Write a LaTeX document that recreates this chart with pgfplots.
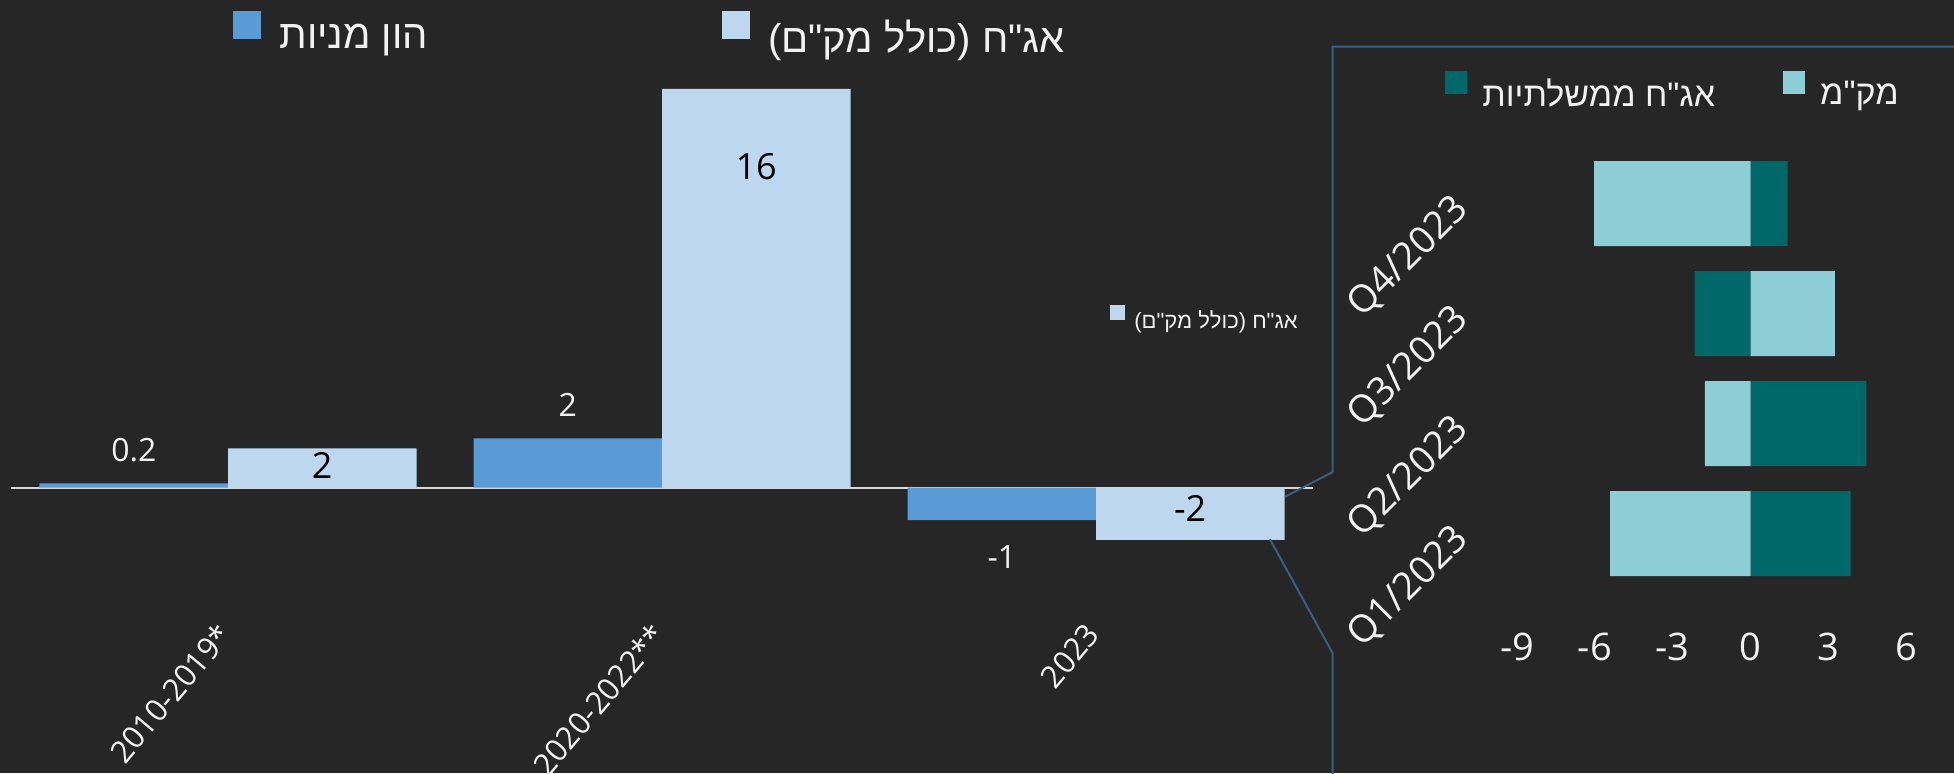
\documentclass[border=0pt]{standalone}
\usepackage{pgfplots}
\pgfplotsset{compat=1.18}
\usepackage{pgfplotstable}
\usepackage{fontspec}
\setmainfont{Open Sans}
\newfontfamily\heb[Script=Hebrew]{Liberation Sans}
\TeXXeTstate=1
\definecolor{bg}{HTML}{262626}
\definecolor{barblue}{HTML}{5B9BD5}
\definecolor{barlight}{HTML}{BDD7EE}
\definecolor{tealL}{HTML}{8DCED6}
\definecolor{tealD}{HTML}{006868}
\definecolor{conn}{HTML}{3B5E80}
\definecolor{zeroc}{HTML}{D9D9D9}
\definecolor{txt}{HTML}{F2F2F2}
\pgfplotstableread{
x y
0 0.17
1 1.98
2 -1.30
}\equity
\pgfplotstableread{
x y
0 1.58
1 16.0
2 -2.09
}\bonds
\pgfplotstableread{
x y lab
-0.217 1.51 0.2
0.783 3.31 2
1.783 -2.78 -1
}\equitylab
\pgfplotstableread{
x y lab
0.217 0.91 2
1.217 12.9 16
2.217 -0.85 -2
}\bondslab
\pgfplotstableread{
q v
1 3.85
2 4.46
3 -2.16
4 1.43
}\govt
\pgfplotstableread{
q v
1 -5.41
2 -1.76
3 3.25
4 -6.03
}\makam
\begin{document}
\begin{tikzpicture}
\useasboundingbox (0,0) rectangle (977pt,-386.5pt);
\fill[bg] (0,0) rectangle (977pt,-386.5pt);
% main chart
\begin{axis}[
  at={(5.5pt,-306.15pt)}, anchor=south west,
  scale only axis, width=651pt, height=286.6pt,
  xmin=-0.5, xmax=2.5, ymin=-5, ymax=18,
  clip=false,
  axis line style={draw=none}, major tick length=0pt,
  xtick={0,1,2}, xticklabels={2010-2019*,2020-2022**,2023},
  ytick=\empty,
  extra y ticks={0}, extra y tick labels={},
  extra y tick style={grid=major, major grid style={draw=zeroc, line width=1pt}},
  xticklabel style={text=txt, font=\fontsize{15.5}{19}\selectfont, inner sep=0pt, xshift=-1.5pt, yshift=-8pt, rotate=50, anchor=east},
  legend columns=2,
  legend cell align=left,
  legend image code/.code={\fill[#1] (0pt,-0.5pt) rectangle (14pt,13.5pt);},
  legend style={at={(0.1705,1.0072)}, anchor=west, draw=none, fill=none, inner sep=0pt,
    text=txt, font=\heb\fontsize{20}{24}\selectfont,
    /tikz/every odd column/.style={column sep=7pt},
    /tikz/every even column/.style={column sep=145pt}},
]
\addplot[ybar, bar width=94.25pt, bar shift=-47.125pt, fill=barblue, draw=none] table[x=x,y=y] {\equity};
\addlegendentry{\beginR הון מניות\endR}
\addplot[ybar, bar width=94.25pt, bar shift=47.125pt, fill=barlight, draw=none] table[x=x,y=y] {\bonds};
\addlegendentry{\beginR אג"ח (כולל מק"ם)\endR}
\addplot[forget plot, draw=none, mark=none, nodes near coords, point meta=explicit symbolic,
  nodes near coords align={center},
  every node near coord/.append style={text=txt, font=\fontsize{16}{19}\selectfont, inner sep=0pt}]
  table[x=x,y=y,meta=lab] {\equitylab};
\addplot[forget plot, draw=none, mark=none, nodes near coords, point meta=explicit symbolic,
  nodes near coords align={center},
  every node near coord/.append style={text=black, font=\fontsize{18}{21}\selectfont, inner sep=0pt}]
  table[x=x,y=y,meta=lab] {\bondslab};
\end{axis}
% stray legend
\begin{axis}[
  at={(555pt,-160pt)}, anchor=center, hide axis,
  scale only axis, width=5pt, height=5pt,
  xmin=0, xmax=1, ymin=0, ymax=1,
  legend image code/.code={\fill[#1] (0pt,0.5pt) rectangle (7.5pt,8pt);},
  legend style={at={(0.5,0.5)}, anchor=west, draw=none, fill=none, inner sep=0pt,
    text=txt, font=\heb\fontsize{11}{13}\selectfont,
    /tikz/every odd column/.style={column sep=2.5pt}},
]
\addlegendimage{fill=barlight, draw=none}
\addlegendentry{\beginR אג"ח (כולל מק"ם)\endR}
\end{axis}
% right chart
\begin{axis}[
  at={(758.5pt,-294.25pt)}, anchor=south west,
  scale only axis, width=194.65pt, height=220pt,
  xmin=-9, xmax=6, ymin=0.5, ymax=4.5,
  clip=false,
  axis line style={draw=none}, major tick length=0pt,
  xtick={-9,-6,-3,0,3,6}, xticklabels={-9,-6,-3,0,3,6},
  ytick={1,2,3,4}, yticklabels={Q1/2023,Q2/2023,Q3/2023,Q4/2023},
  xticklabel style={text=txt, font=\fontsize{19}{22}\selectfont, anchor=center, yshift=-29.25pt},
  yticklabel style={text=txt, font=\fontsize{19}{22}\selectfont, inner sep=0pt, xshift=-27pt, rotate=45, anchor=east},
  legend columns=2,
  legend cell align=left,
  legend image code/.code={\fill[#1] (0pt,0pt) rectangle (11pt,11.5pt);},
  legend style={at={(-0.185,1.128)}, anchor=west, draw=none, fill=none, inner sep=0pt,
    text=txt, font=\heb\fontsize{17}{20}\selectfont,
    /tikz/every odd column/.style={column sep=5.5pt},
    /tikz/every even column/.style={column sep=32pt}},
]
\addplot[xbar, bar width=42.5pt, bar shift=0pt, fill=tealD, draw=none] table[x=v,y=q] {\govt};
\addlegendentry{\beginR אג"ח ממשלתיות\endR}
\addplot[xbar, bar width=42.5pt, bar shift=0pt, fill=tealL, draw=none] table[x=v,y=q] {\makam};
\addlegendentry{\beginR מק"מ\endR}
\end{axis}
% connector frame
\begin{scope}[x=0.5pt, y=-0.5pt]
\draw[conn, line width=1pt] (1285,496.7) -- (1332.7,472) -- (1332.7,46.7) -- (1960,46.7);
\draw[conn, line width=1pt] (1270,539.3) -- (1332.7,653.3) -- (1332.7,780);
\end{scope}
\end{tikzpicture}
\end{document}
